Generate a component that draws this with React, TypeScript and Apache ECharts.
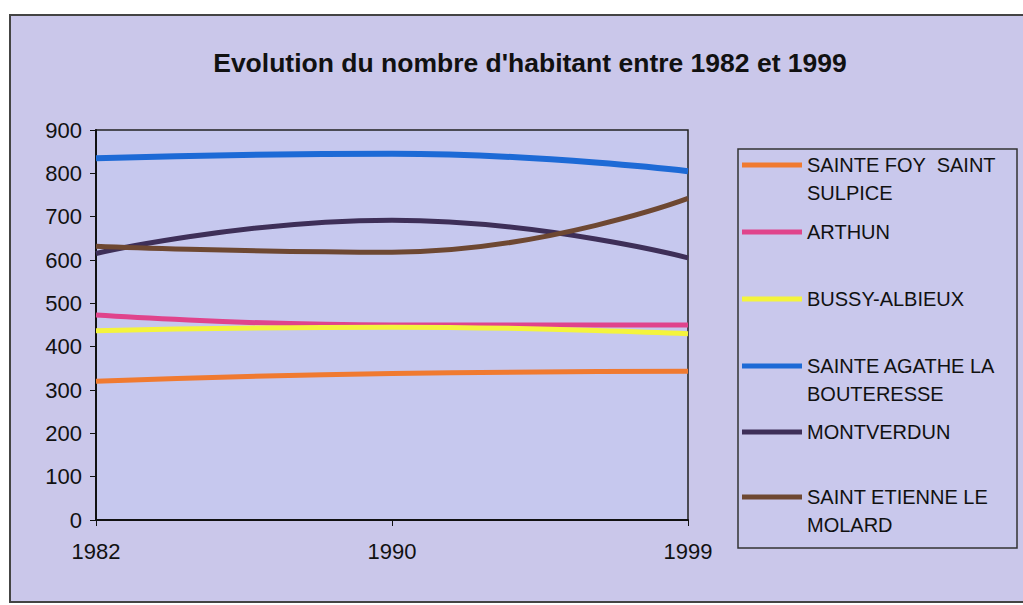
import React, { useEffect, useRef } from "react";
import * as echarts from "echarts";

const years = ["1982", "1990", "1999"];
const sainteFoy = [320, 338, 343];
const arthun = [473, 450, 450];
const bussy = [437, 445, 430];
const sainteAgathe = [835, 845, 805];
const montverdun = [615, 692, 605];
const saintEtienne = [632, 618, 742];

const names = [
  "SAINTE FOY  SAINT\nSULPICE",
  "ARTHUN",
  "BUSSY-ALBIEUX",
  "SAINTE AGATHE LA\nBOUTERESSE",
  "MONTVERDUN",
  "SAINT ETIENNE LE\nMOLARD",
];
const colors = ["#f07a30", "#e0448c", "#f4f43c", "#1d6ad6", "#3e2f58", "#6e4832"];
const values = [sainteFoy, arthun, bussy, sainteAgathe, montverdun, saintEtienne];
const legendY = [165, 232, 299, 366, 432, 497];

export default function App() {
  const ref = useRef<HTMLDivElement>(null);
  useEffect(() => {
    const chart = echarts.init(ref.current!, null, { renderer: "svg" });
    const font = "'Liberation Sans', Arial, sans-serif";
    const legends = names.map((n, i) => {
      const two = n.includes("\n");
      return {
        data: [n],
        left: 737,
        top: two ? legendY[i] - 47 : legendY[i] - 19,
        itemWidth: 60,
        itemHeight: 5,
        icon: "rect",
        selectedMode: false,
        formatter: (s: string) => (s.includes("\n") ? "\n" + s : s),
        textStyle: {
          fontFamily: font,
          fontSize: 20,
          color: "#111",
          lineHeight: 28,
        },
      };
    });
    chart.setOption({
      animation: false,
      backgroundColor: "#ffffff",
      title: {
        text: "Evolution du nombre d'habitant entre 1982 et 1999",
        left: 525,
        textAlign: "center",
        top: 44,
        textStyle: { fontFamily: font, fontSize: 26.5, fontWeight: "bold", color: "#111" },
      },
      graphic: [
        {
          type: "rect",
          z: -10,
          shape: { x: 10, y: 15, width: 1020, height: 587 },
          style: { fill: "#cac7ea", stroke: "#444", lineWidth: 2 },
        },
        {
          type: "rect",
          z: -5,
          shape: { x: 738, y: 149, width: 279, height: 399 },
          style: { fill: "#c9c8ec", stroke: "#333", lineWidth: 1.5 },
        },
      ],
      legend: legends,
      grid: {
        left: 96,
        right: 335,
        top: 130,
        bottom: 85,
        show: true,
        backgroundColor: "#c6c8ee",
        borderColor: "#222",
        borderWidth: 1.5,
        z: 0,
      },
      xAxis: {
        type: "category",
        data: years,
        boundaryGap: false,
        axisLine: { lineStyle: { color: "#111", width: 2 } },
        axisTick: { show: true, length: 6, lineStyle: { color: "#111" } },
        axisLabel: { fontFamily: font, fontSize: 22, color: "#111", margin: 20 },
        splitLine: { show: false },
      },
      yAxis: {
        type: "value",
        min: 0,
        max: 900,
        interval: 100,
        axisLine: { show: true, lineStyle: { color: "#111", width: 2 } },
        axisTick: { show: true, length: 6, lineStyle: { color: "#111" } },
        axisLabel: { fontFamily: font, fontSize: 22, color: "#111", margin: 14 },
        splitLine: { show: false },
      },
      series: names.map((n, i) => ({
        name: n,
        type: "line",
        data: values[i],
        smooth: true,
        showSymbol: false,
        symbol: "none",
        lineStyle: { color: colors[i], width: i === 3 ? 6 : 5 },
        itemStyle: { color: colors[i] },
      })),
    });
    return () => chart.dispose();
  }, []);
  return (
    <div
      ref={ref}
      style={{ position: "fixed", left: 0, top: 0, width: 1023, height: 605 }}
    />
  );
}
